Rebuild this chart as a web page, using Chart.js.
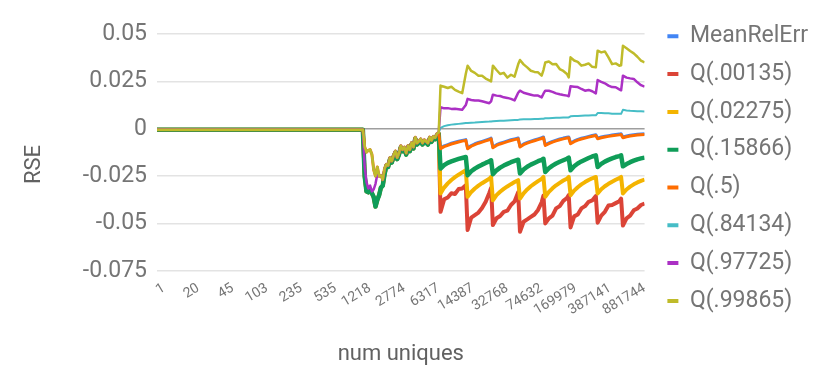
<!DOCTYPE html>
<html>
<head>
<meta charset="utf-8">
<script src="https://cdn.jsdelivr.net/npm/chart.js@4.4.1/dist/chart.umd.min.js"></script>
<style>
  html, body { margin: 0; padding: 0; background: #fff; }
  #wrap { width: 830px; height: 392px; }
</style>
</head>
<body>
<div id="wrap"><canvas id="chart" width="830" height="392"></canvas></div>
<script>
const seriesNames = ['MeanRelErr', 'Q(.00135)', 'Q(.02275)', 'Q(.15866)', 'Q(.5)', 'Q(.84134)', 'Q(.97725)', 'Q(.99865)'];
const seriesColors = ['#4285f4', '#db4437', '#f4b400', '#0f9d58', '#ff6d00', '#46bdc6', '#ab30c4', '#bfbb2a'];
const seriesWidths = [3, 4, 4, 4.5, 3, 2, 2.5, 2.5];

// x tick labels (num uniques), one every 19 points
const xTickLabels = ['1', '20', '45', '103', '235', '535', '1218', '2774', '6317', '14387', '32768', '74632', '169979', '387141', '881744'];
const xTickEvery = 19;
const yTickLabels = ['-0.075', '-0.05', '-0.025', '0', '0.025', '0.05'];
const xTitle = 'num uniques';
const yTitle = 'RSE';

// point index along the num uniques axis for every sampled value
const sampleIdx = [0,
  114, 115, 116, 117, 118, 119, 120, 121, 122, 123, 124, 125, 126, 127, 128, 129, 130, 131, 132, 133, 134,
  135, 136, 137, 138, 139, 140, 141, 142, 143, 144, 145, 146, 147, 148, 149, 150, 151, 152, 153, 154, 155, 156,
  157, 159, 161, 163, 165, 167, 169, 171,
  172, 174, 176, 178, 180, 182, 184, 185,
  186, 188, 190, 192, 194, 196, 198, 200,
  201, 203, 205, 207, 209, 211, 213, 214,
  215, 217, 219, 221, 223, 225, 227, 228,
  229, 231, 233, 235, 237, 239, 241, 243,
  244, 246, 248, 250, 252, 254, 256, 257,
  258, 260, 262, 264, 266, 268, 270];

// flat part (1 .. ~1200 uniques)
const flatStart = [-0.0005];

// 1218 .. 8192 uniques: all series nearly on top of each other
const midUpper = [-0.0005, -0.0096, -0.0123, -0.0114, -0.0110, -0.0135, -0.0216, -0.0250, -0.0201, -0.0250, -0.0245,
  -0.0268, -0.0210, -0.0187, -0.0193, -0.0152, -0.0170, -0.0140, -0.0117, -0.0152, -0.0128, -0.0089, -0.0110,
  -0.0096, -0.0128, -0.0088, -0.0110, -0.0072, -0.0096, -0.0044, -0.0075, -0.0065, -0.0053, -0.0075, -0.0058,
  -0.0065, -0.0075, -0.0044, -0.0061, -0.0040, -0.0047, -0.0026, -0.0019];
const midLower = [-0.0005, -0.0250, -0.0330, -0.0335, -0.0320, -0.0340, -0.0360, -0.0410, -0.0375, -0.0350, -0.0310,
  -0.0300, -0.0240, -0.0195, -0.0201, -0.0160, -0.0178, -0.0148, -0.0125, -0.0160, -0.0136, -0.0097, -0.0118,
  -0.0104, -0.0136, -0.0096, -0.0118, -0.0080, -0.0104, -0.0052, -0.0083, -0.0073, -0.0061, -0.0083, -0.0066,
  -0.0073, -0.0083, -0.0052, -0.0069, -0.0048, -0.0055, -0.0034, -0.0027];
const midPurple = [-0.0005, -0.0200, -0.0280, -0.0315, -0.0300, -0.0330, -0.0320, -0.0290, -0.0240, -0.0250, -0.0245,
  -0.0268, -0.0210, -0.0187, -0.0193, -0.0152, -0.0170, -0.0140, -0.0117, -0.0152, -0.0128, -0.0089, -0.0110,
  -0.0096, -0.0128, -0.0088, -0.0110, -0.0072, -0.0096, -0.0044, -0.0075, -0.0065, -0.0053, -0.0075, -0.0058,
  -0.0065, -0.0075, -0.0044, -0.0061, -0.0040, -0.0047, -0.0026, -0.0019];

// above ~8192 uniques: sawtooth part, one row per tooth
const rightMean = [
  -0.0101, -0.0090, -0.0083, -0.0076, -0.0071, -0.0066, -0.0061, -0.0057,
  -0.0101, -0.0088, -0.0079, -0.0072, -0.0066, -0.0060, -0.0054, -0.0049,
  -0.0096, -0.0084, -0.0076, -0.0070, -0.0064, -0.0058, -0.0053, -0.0049,
  -0.0092, -0.0080, -0.0072, -0.0065, -0.0059, -0.0053, -0.0047, -0.0043,
  -0.0084, -0.0074, -0.0066, -0.0060, -0.0054, -0.0049, -0.0045, -0.0043,
  -0.0075, -0.0064, -0.0056, -0.0050, -0.0045, -0.0040, -0.0035, -0.0031,
  -0.0049, -0.0043, -0.0039, -0.0036, -0.0033, -0.0030, -0.0028, -0.0026,
  -0.0043, -0.0038, -0.0034, -0.0031, -0.0029, -0.0027, -0.0026];
const rightQ00135 = [
  -0.0438, -0.0372, -0.0362, -0.0340, -0.0344, -0.0318, -0.0315, -0.0298,
  -0.0534, -0.0468, -0.0455, -0.0442, -0.0418, -0.0385, -0.0338, -0.0312,
  -0.0508, -0.0472, -0.0460, -0.0438, -0.0432, -0.0402, -0.0383, -0.0335,
  -0.0543, -0.0490, -0.0478, -0.0465, -0.0452, -0.0428, -0.0388, -0.0352,
  -0.0499, -0.0472, -0.0458, -0.0420, -0.0408, -0.0380, -0.0365, -0.0350,
  -0.0520, -0.0462, -0.0452, -0.0420, -0.0408, -0.0385, -0.0378, -0.0355,
  -0.0495, -0.0458, -0.0438, -0.0405, -0.0402, -0.0392, -0.0382, -0.0368,
  -0.0510, -0.0472, -0.0458, -0.0430, -0.0420, -0.0402, -0.0394];
const rightQ02275 = [
  -0.0341, -0.0310, -0.0288, -0.0270, -0.0255, -0.0242, -0.0230, -0.0219,
  -0.0359, -0.0333, -0.0315, -0.0300, -0.0287, -0.0275, -0.0264, -0.0254,
  -0.0377, -0.0350, -0.0332, -0.0317, -0.0304, -0.0292, -0.0281, -0.0271,
  -0.0368, -0.0340, -0.0320, -0.0303, -0.0289, -0.0276, -0.0264, -0.0254,
  -0.0359, -0.0333, -0.0314, -0.0298, -0.0285, -0.0273, -0.0263, -0.0254,
  -0.0350, -0.0326, -0.0308, -0.0293, -0.0281, -0.0270, -0.0261, -0.0254,
  -0.0341, -0.0319, -0.0303, -0.0290, -0.0279, -0.0269, -0.0260, -0.0254,
  -0.0341, -0.0320, -0.0305, -0.0293, -0.0283, -0.0275, -0.0268];
const rightQ15866 = [
  -0.0210, -0.0192, -0.0180, -0.0172, -0.0165, -0.0159, -0.0154, -0.0149,
  -0.0245, -0.0224, -0.0210, -0.0199, -0.0189, -0.0180, -0.0172, -0.0166,
  -0.0240, -0.0219, -0.0205, -0.0194, -0.0185, -0.0176, -0.0169, -0.0163,
  -0.0236, -0.0215, -0.0200, -0.0189, -0.0180, -0.0171, -0.0164, -0.0158,
  -0.0228, -0.0208, -0.0194, -0.0183, -0.0174, -0.0166, -0.0158, -0.0152,
  -0.0219, -0.0198, -0.0183, -0.0172, -0.0163, -0.0154, -0.0146, -0.0140,
  -0.0201, -0.0185, -0.0173, -0.0164, -0.0156, -0.0149, -0.0144, -0.0140,
  -0.0198, -0.0186, -0.0176, -0.0168, -0.0161, -0.0156, -0.0152];
const rightQ5 = [
  -0.0105, -0.0094, -0.0087, -0.0080, -0.0075, -0.0070, -0.0065, -0.0061,
  -0.0105, -0.0092, -0.0083, -0.0076, -0.0070, -0.0064, -0.0058, -0.0053,
  -0.0100, -0.0088, -0.0080, -0.0074, -0.0068, -0.0062, -0.0057, -0.0053,
  -0.0096, -0.0084, -0.0076, -0.0069, -0.0063, -0.0057, -0.0051, -0.0047,
  -0.0088, -0.0078, -0.0070, -0.0064, -0.0058, -0.0053, -0.0049, -0.0047,
  -0.0079, -0.0068, -0.0060, -0.0054, -0.0049, -0.0044, -0.0039, -0.0035,
  -0.0053, -0.0047, -0.0043, -0.0040, -0.0037, -0.0034, -0.0032, -0.0030,
  -0.0047, -0.0042, -0.0038, -0.0035, -0.0033, -0.0031, -0.0030];
const rightQ84134 = [
  0.0005, 0.0014, 0.0019, 0.0022, 0.0024, 0.0026, 0.0028, 0.0030,
  0.0031, 0.0032, 0.0033, 0.0035, 0.0036, 0.0037, 0.0038, 0.0039,
  0.0040, 0.0041, 0.0042, 0.0043, 0.0044, 0.0045, 0.0046, 0.0047,
  0.0049, 0.0050, 0.0050, 0.0051, 0.0052, 0.0052, 0.0053, 0.0053,
  0.0056, 0.0056, 0.0057, 0.0058, 0.0058, 0.0059, 0.0060, 0.0060,
  0.0066, 0.0067, 0.0068, 0.0069, 0.0070, 0.0070, 0.0071, 0.0071,
  0.0083, 0.0083, 0.0082, 0.0082, 0.0080, 0.0080, 0.0079, 0.0079,
  0.0100, 0.0097, 0.0095, 0.0094, 0.0093, 0.0092, 0.0091];
const rightQ97725 = [
  0.0114, 0.0108, 0.0109, 0.0105, 0.0106, 0.0103, 0.0100, 0.0125,
  0.0158, 0.0152, 0.0149, 0.0149, 0.0145, 0.0140, 0.0135, 0.0145,
  0.0180, 0.0175, 0.0173, 0.0166, 0.0163, 0.0158, 0.0150, 0.0190,
  0.0201, 0.0190, 0.0185, 0.0180, 0.0175, 0.0175, 0.0166, 0.0185,
  0.0201, 0.0201, 0.0195, 0.0187, 0.0182, 0.0178, 0.0175, 0.0172,
  0.0224, 0.0222, 0.0220, 0.0210, 0.0201, 0.0205, 0.0198, 0.0187,
  0.0257, 0.0248, 0.0240, 0.0228, 0.0220, 0.0219, 0.0208, 0.0203,
  0.0280, 0.0270, 0.0266, 0.0263, 0.0245, 0.0230, 0.0222];
const rightQ99865 = [
  0.0228, 0.0222, 0.0215, 0.0222, 0.0205, 0.0196, 0.0188, 0.0290,
  0.0333, 0.0305, 0.0295, 0.0280, 0.0280, 0.0265, 0.0255, 0.0250,
  0.0333, 0.0310, 0.0289, 0.0295, 0.0270, 0.0285, 0.0275, 0.0340,
  0.0363, 0.0340, 0.0324, 0.0306, 0.0300, 0.0298, 0.0280, 0.0310,
  0.0350, 0.0355, 0.0340, 0.0342, 0.0315, 0.0305, 0.0289, 0.0271,
  0.0377, 0.0360, 0.0353, 0.0333, 0.0338, 0.0345, 0.0327, 0.0324,
  0.0412, 0.0403, 0.0408, 0.0377, 0.0341, 0.0345, 0.0333, 0.0335,
  0.0438, 0.0425, 0.0410, 0.0398, 0.0380, 0.0360, 0.0350];

const seriesValues = [
  [...flatStart, ...midLower, ...rightMean],
  [...flatStart, ...midLower, ...rightQ00135],
  [...flatStart, ...midLower, ...rightQ02275],
  [...flatStart, ...midLower, ...rightQ15866],
  [...flatStart, ...midUpper, ...rightQ5],
  [...flatStart, ...midUpper, ...rightQ84134],
  [...flatStart, ...midPurple, ...rightQ97725],
  [...flatStart, ...midUpper, ...rightQ99865]
];

Chart.defaults.font.family = 'Roboto';

const datasets = seriesNames.map((name, i) => ({
  label: name,
  data: sampleIdx.map((x, j) => ({ x: x, y: seriesValues[i][j] })),
  borderColor: seriesColors[i],
  backgroundColor: seriesColors[i],
  borderWidth: seriesWidths[i],
  pointRadius: 0,
  tension: 0,
  borderJoinStyle: 'round',
  order: seriesNames.length - i, // later series on top
  xAxisID: 'x',
  yAxisID: 'y'
}));

// y axis title sits a little below the middle of the plot, like the original
const yTitlePlugin = {
  id: 'yTitle',
  afterDraw(chart) {
    const { ctx, chartArea } = chart;
    ctx.save();
    ctx.translate(chart.scales.y.left + 24, (chartArea.top + chartArea.bottom) / 2 + 12);
    ctx.rotate(-Math.PI / 2);
    ctx.font = '22px Roboto';
    ctx.fillStyle = '#616161';
    ctx.textAlign = 'center';
    ctx.textBaseline = 'middle';
    ctx.fillText(yTitle, 0, 0);
    ctx.restore();
  }
};

new Chart(document.getElementById('chart'), {
  type: 'line',
  data: { datasets },
  plugins: [yTitlePlugin],
  options: {
    responsive: false,
    animation: false,
    layout: { padding: { top: 10, right: 12, bottom: 0, left: 10 } },
    plugins: {
      tooltip: { enabled: false },
      legend: {
        position: 'right',
        align: 'start',
        maxWidth: 220,
        labels: {
          font: { size: 23 },
          color: '#757575',
          boxWidth: 11,
          boxHeight: 4,
          padding: 14.8,
          generateLabels(chart) {
            const items = Chart.defaults.plugins.legend.labels.generateLabels(chart);
            items.sort((a, b) => a.datasetIndex - b.datasetIndex);
            items.forEach(it => { it.lineWidth = 0; it.fillStyle = seriesColors[it.datasetIndex]; });
            return items;
          }
        }
      }
    },
    scales: {
      x: {
        type: 'linear',
        position: 'bottom',
        min: 0,
        max: sampleIdx[sampleIdx.length - 1],
        bounds: 'data',
        grid: { display: false },
        border: { display: false },
        afterBuildTicks(scale) {
          scale.ticks = xTickLabels.map((_, i) => ({ value: i * xTickEvery }));
        },
        afterFit(scale) { scale.height = 121; },
        ticks: {
          autoSkip: false,
          minRotation: 31,
          maxRotation: 31,
          padding: 1,
          labelOffset: 7,
          color: '#757575',
          font: { size: 14 },
          callback: (v) => xTickLabels[Math.round(v / xTickEvery)]
        },
        title: {
          display: true,
          text: xTitle,
          color: '#616161',
          font: { size: 22 },
          padding: { top: 0, bottom: 24 }
        }
      },
      xTop: {
        type: 'linear',
        position: 'top',
        grid: { display: false },
        border: { display: false },
        ticks: { display: false },
        afterFit(scale) { scale.height = 24; }
      },
      y: {
        type: 'linear',
        min: -0.075,
        max: 0.05,
        afterBuildTicks(scale) {
          scale.ticks = yTickLabels.map(t => ({ value: Number(t) }));
        },
        afterFit(scale) { scale.width = 147; },
        border: { display: false },
        grid: {
          drawTicks: false,
          lineWidth: 1.5,
          color: (ctx) => (ctx.tick && ctx.tick.value === 0 ? '#9e9e9e' : '#e3e3e3')
        },
        ticks: {
          padding: 10,
          color: '#757575',
          font: { size: 23 },
          callback: (v, i) => yTickLabels[i]
        }
      },
      ySpacer: {
        type: 'linear',
        position: 'right',
        grid: { display: false },
        border: { display: false },
        ticks: { display: false },
        afterFit(scale) { scale.width = 8; }
      }
    }
  }
});
</script>
</body>
</html>
